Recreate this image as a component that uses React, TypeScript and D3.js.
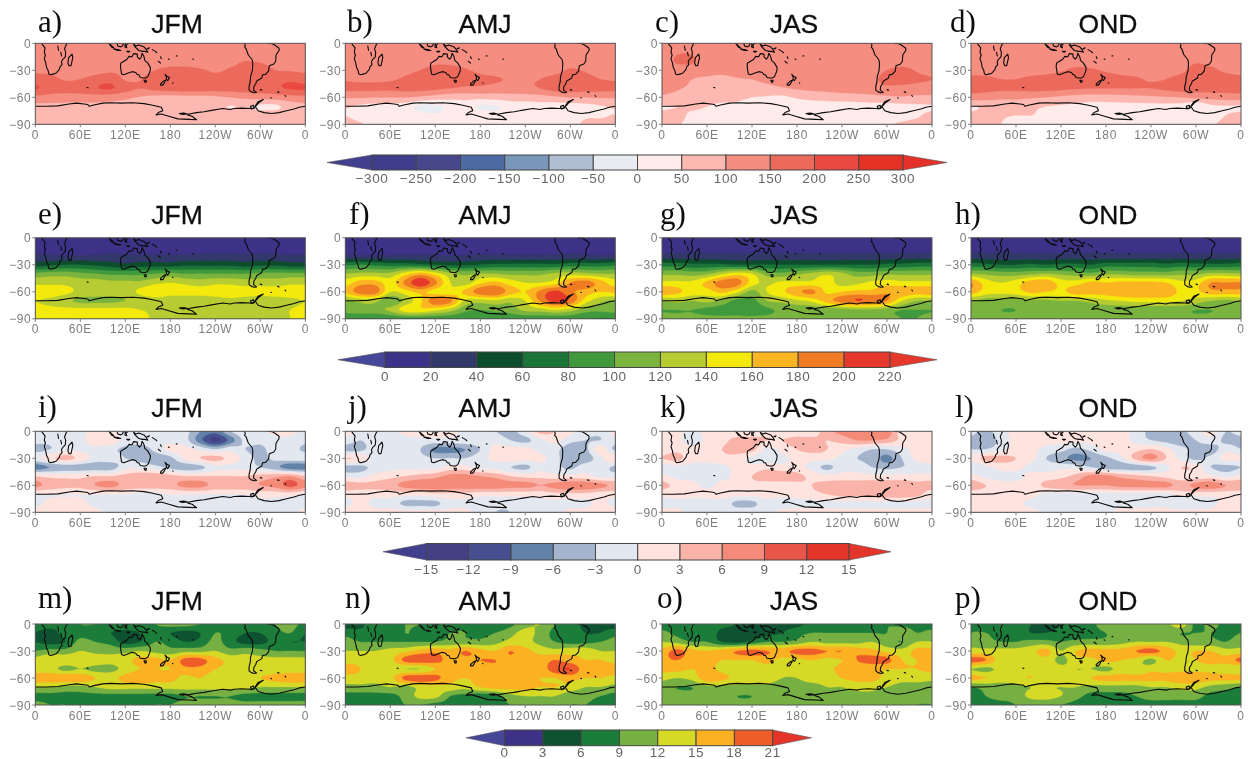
import React, { useMemo } from "react";
import * as d3 from "d3";

// Grid: longitudes 0,20..340 (wraps), latitudes 0,-10..-90
const LON_STEP = 20;
const LAT_STEP = 10;

const panelA = [
[125,125,125,125,125,125,125,125,125,125,125,125,125,125,125,125,125,125],
[125,125,125,125,125,125,125,125,125,125,125,125,125,125,125,125,125,125],
[125,125,125,125,125,125,125,125,125,125,125,125,125,135,150,145,130,125],
[140,135,125,125,130,140,140,135,150,165,165,155,145,155,170,175,150,145],
[175,165,145,150,170,180,145,148,170,175,175,170,160,165,170,175,180,190],
[205,175,170,175,195,205,170,150,165,175,175,175,170,170,175,180,190,205],
[135,130,125,125,125,120,110,95,85,80,85,85,90,100,110,115,120,130],
[85,85,85,85,85,85,80,75,75,75,70,70,60,48,55,40,40,70],
[75,75,75,75,75,75,75,75,75,75,75,75,75,75,75,75,75,75],
[75,75,75,75,75,75,75,75,75,75,75,75,75,75,75,75,75,75],
];
const panelB = [
[125,125,125,125,125,125,125,125,125,125,125,125,125,125,125,125,125,125],
[125,125,125,125,125,125,125,125,125,125,125,125,125,125,125,125,125,125],
[125,125,125,125,125,130,140,135,125,125,125,125,125,125,125,130,125,125],
[125,125,125,130,140,150,165,170,155,140,130,125,125,125,135,155,145,130],
[145,140,140,145,155,165,175,180,165,160,155,145,140,150,165,170,165,150],
[160,160,160,160,165,165,160,150,140,140,130,130,135,150,170,175,170,165],
[105,105,100,100,100,90,75,65,65,65,70,75,75,80,90,100,100,105],
[55,40,30,30,20,-10,-10,15,25,-5,-5,20,25,30,25,25,35,45],
[50,30,20,20,20,15,5,15,25,20,15,20,25,25,30,30,45,45],
[65,55,30,25,25,25,25,25,25,25,25,25,25,25,30,40,55,60],
];
const panelC = [
[125,125,125,125,125,125,125,125,125,125,125,125,125,125,125,125,125,125],
[125,145,145,125,125,125,125,125,125,125,125,125,125,125,125,125,125,125],
[125,155,155,125,125,125,125,125,125,125,125,125,125,125,125,125,125,125],
[130,130,125,120,115,125,125,125,125,125,125,125,125,125,125,150,165,145],
[150,125,100,90,85,95,100,110,120,125,125,125,125,125,135,170,175,160],
[115,105,90,80,80,85,85,85,95,105,110,115,120,120,125,135,130,125],
[92,85,70,65,65,60,50,45,40,55,65,70,75,80,85,90,95,90],
[45,50,60,50,40,40,35,30,25,25,25,25,25,25,30,30,35,40],
[60,65,40,35,30,30,30,30,30,30,30,30,30,30,30,35,35,45],
[60,55,35,30,30,30,30,30,30,30,30,30,30,30,35,45,55,60],
];
const panelD = [
[125,125,125,125,125,125,125,125,125,125,125,125,125,125,125,125,125,125],
[125,125,125,125,125,125,125,125,125,125,125,125,125,125,125,125,125,125],
[125,125,125,125,125,125,125,130,130,125,125,125,125,125,130,145,135,125],
[130,130,125,125,130,135,145,160,155,145,135,130,125,130,140,165,160,140],
[165,160,150,150,160,165,170,175,170,165,160,155,145,150,165,175,175,170],
[170,165,160,160,165,165,160,155,150,150,150,150,150,160,170,170,170,170],
[125,120,110,110,105,100,90,80,75,75,80,85,90,95,100,110,115,120],
[45,60,70,70,60,50,45,40,35,35,35,35,35,35,30,5,40,45],
[60,65,55,50,50,45,45,45,40,40,40,40,40,40,35,25,35,50],
[65,65,50,40,40,40,40,40,40,40,40,40,40,40,40,40,45,60],
];
const panelE = [
[10,10,10,10,10,10,10,10,10,10,10,10,10,10,10,10,10,10],
[11,11,10,10,11,11,10,10,11,11,11,11,11,11,11,11,11,11],
[22,22,20,20,22,24,22,22,22,22,22,24,24,24,24,24,24,22],
[50,55,60,60,55,50,45,50,50,50,55,55,55,55,50,55,55,50],
[105,110,110,105,100,95,95,95,100,105,100,100,100,100,100,105,105,105],
[135,135,135,130,130,125,125,125,135,140,135,130,135,135,130,130,130,135],
[150,150,145,135,130,130,130,145,155,150,148,148,150,150,150,150,150,150],
[140,135,125,115,115,115,120,125,130,125,125,125,130,135,130,125,130,135],
[145,145,145,145,145,145,145,140,135,130,130,130,130,130,130,130,135,140],
[150,150,150,150,150,150,150,148,135,130,125,125,125,125,125,130,130,140],
];
const panelF = [
[10,10,10,10,10,10,10,10,10,10,10,10,10,10,10,10,10,10],
[12,12,12,12,12,12,12,12,12,12,12,12,12,12,12,12,12,12],
[21,21,21,21,23,23,21,20,21,23,23,23,23,23,23,25,23,21],
[75,80,75,70,70,65,60,55,55,60,65,65,65,65,65,70,70,70],
[120,125,125,125,150,170,150,125,115,120,120,115,115,115,125,130,125,120],
[150,170,170,150,185,215,185,140,130,155,165,150,140,140,150,180,190,170],
[165,190,190,140,150,165,150,145,165,192,198,170,160,185,205,185,170,160],
[115,125,125,100,125,155,195,185,135,130,135,125,140,182,208,195,150,125],
[110,115,115,125,150,155,145,130,105,100,105,110,125,130,140,130,110,105],
[78,78,78,80,85,85,85,85,85,85,85,85,85,85,85,85,80,78],
];
const panelG = [
[10,10,10,10,10,10,10,10,10,10,10,10,10,10,10,10,10,10],
[12,12,12,12,12,12,12,12,12,12,12,12,12,12,12,12,12,12],
[27,27,27,27,26,26,26,26,26,26,26,26,26,26,26,26,27,27],
[70,70,65,65,65,60,60,60,60,60,60,60,60,60,60,65,65,70],
[115,115,110,115,135,150,140,110,105,115,125,135,125,110,110,115,115,115],
[145,145,145,165,190,190,150,135,145,145,145,150,130,135,145,150,145,145],
[175,165,150,150,165,145,112,140,155,175,185,155,160,165,165,175,175,170],
[120,125,120,125,115,92,92,120,125,135,145,170,190,200,195,180,140,120],
[100,100,100,95,90,90,85,95,105,105,105,105,110,115,115,110,100,100],
[105,105,105,105,105,105,105,105,105,105,105,105,105,105,105,105,100,100],
];
const panelH = [
[10,10,10,10,10,10,10,10,10,10,10,10,10,10,10,10,10,10],
[12,12,12,12,12,12,12,12,12,12,12,12,12,12,12,12,12,12],
[27,27,27,27,27,27,27,27,27,27,27,27,27,27,27,27,27,27],
[70,65,60,60,65,60,65,65,60,70,70,70,70,65,70,65,65,65],
[120,115,110,110,115,120,115,110,105,115,115,110,110,110,115,115,125,125],
[180,150,140,150,170,175,150,150,165,160,165,165,165,160,145,150,180,180],
[170,150,145,150,165,160,155,170,170,170,178,178,178,175,155,155,172,172],
[120,110,110,110,115,115,120,120,125,135,140,145,145,145,140,130,120,115],
[105,105,100,100,105,105,105,105,110,105,105,105,105,105,105,100,100,105],
[105,105,105,105,105,105,105,105,105,105,105,105,105,105,105,105,105,105],
];
const panelI = [
[-1,-1,-2,-1,1,1,-1,-1,-1,-1,-2,-6,-8,-3,-1,-1,1,1],
[-2,-2,-1,-1,2,2,-1,-1,-1,-1,-2,-8,-13,-8,-2,-2,-1,-1],
[-4,-3,-1,-1,-1,-2,-4,-5,-2,1,1,-1,-3,-1,-3,-4,-1,-1],
[-1,2,4,2,-1,-1,-3,-4,-5,-4,1,3,4,2,-1,-4,-2,-1],
[-8,-6,-5,-5,-5,-5,-1,-1,-2,-4,-5,-4,-1,-1,-1,-3,-5,-8],
[3,2,2,2,3,3,4,5,5,4,3,3,3,3,3,4,5,6],
[7,5,4,4,6,7,5,5,5,5,7,7,5,5,5,6,7,10],
[0,0,0,0,0,0,0,-1,-1,0,0,0,0,0,0,1,1,1],
[-1,1,1,1,-1,-1,-1,-1,-1,-1,-1,-1,-1,-1,-3,-1,-1,-1],
[1,1,1,1,1,-1,-1,-1,-1,-1,-1,-1,-1,-1,-1,-1,-1,-1],
];
const panelJ = [
[1,-1,-1,-1,1,2,2,1,-1,-1,-3,-4,-1,4,3,1,-2,-2],
[-1,-3,-1,-1,-1,-1,-1,-1,-1,-1,-1,-3,-4,-1,1,-2,-3,-3],
[-4,-4,-1,-1,-1,-3,-7,-7,-6,-3,1,1,1,-1,-2,-5,-4,2],
[3,2,-1,-1,-1,-2,-3,-3,-3,-1,1,2,1,1,-2,-5,-5,-1],
[-4,-4,-2,-1,-1,-1,-1,1,1,-1,-1,-3,-4,-1,-2,-4,-1,-1],
[-1,-1,1,2,3,4,5,7,7,6,5,3,2,2,1,1,1,-1],
[5,4,4,5,7,8,8,8,8,8,8,7,7,6,7,8,8,7],
[1,1,1,1,1,1,2,2,2,1,1,1,1,1,2,2,2,1],
[-1,1,-1,-1,-4,-4,-4,-1,-1,-2,-2,-2,-1,-1,-1,-1,-1,1],
[2,2,1,1,1,1,1,1,1,-1,-3,-3,-1,-1,-1,1,1,2],
];
const panelK = [
[1,1,-1,1,1,1,1,2,1,1,1,5,7,8,8,8,1,1],
[1,1,-2,1,2,4,4,3,3,4,4,3,4,6,6,5,2,1],
[1,2,1,2,3,4,4,-1,1,3,4,3,1,-1,-3,-3,-1,1],
[3,4,1,1,2,2,-1,-2,-1,1,1,1,-1,-3,-4,-7,-3,1],
[-2,-1,-1,-1,-1,1,1,2,1,1,-1,-4,-1,-1,-3,-4,-3,-2],
[1,-1,-1,-1,-1,1,3,5,5,4,2,1,1,1,1,1,1,1],
[4,2,1,-1,1,1,2,1,1,2,3,4,5,5,5,5,5,4],
[1,1,1,1,1,1,1,1,1,1,2,3,4,4,5,5,5,4],
[-1,-1,-2,-2,-1,-4,-4,-1,-2,-1,-1,-1,-1,-1,-1,-1,-1,-1],
[1,1,-1,-1,-1,-1,-1,-1,1,1,1,1,1,1,1,1,1,1],
];
const panelL = [
[-2,-4,-1,1,1,1,1,1,1,1,1,-1,-4,-4,-4,-1,1,-3],
[-4,-5,-2,1,1,1,1,1,1,1,1,-1,-3,-4,-5,-3,-1,-4],
[-3,-3,-1,1,1,-1,-2,-4,-2,1,1,2,3,1,-2,-4,-5,-1],
[1,4,4,3,1,-3,-5,-7,-6,-4,-1,4,7,3,-1,-4,-2,1],
[-3,-1,1,1,-1,-1,-1,-1,-3,-5,-5,-5,-4,-1,3,2,-3,-4],
[1,-1,-1,-1,1,1,2,4,7,7,5,4,3,2,1,1,1,-1],
[5,3,1,1,1,4,5,6,6,6,7,7,7,7,5,7,8,6],
[1,1,1,1,1,-1,-1,-1,-1,-1,-1,-1,-1,-1,1,1,1,1],
[1,1,1,1,-1,-1,-1,-1,-1,-1,-1,-1,-1,-1,-3,-2,-1,1],
[2,2,2,1,1,-1,-1,-1,-1,-1,1,1,1,1,1,1,1,2],
];
const panelM = [
[8,7,7,9,9,8,8,8,9,10,10,9,8,9,8,8,9,10],
[6,5,7,8,7,6,5,6,8,6,5,6,9,8,6,6,8,9],
[6,5,6,10,9,8,5,6,9,8,6,7,10,7,5,5,7,6],
[9,10,10,12,11,11,11,12,11,10,11,11,12,10,11,10,9,9],
[13,15,14,15,14,13,14,16,16,15,19,19,16,14,13,13,13,13],
[13,13,11,12,11,11,13,15,15,15,17,17,15,14,13,13,13,13],
[17,17,17,17,15,14,16,17,16,16,14,15,13,13,14,15,16,17],
[12,12,11,11,12,13,13,13,13,13,13,13,13,13,13,12,12,12],
[8,8,8,8,8,8,8,8,8,8,9,9,9,9,8,8,8,8],
[10,9,9,8,8,8,8,8,9,9,10,10,10,10,10,10,10,10],
];
const panelN = [
[4,5,8,7,9,9,8,8,9,7,6,8,11,12,9,8,5,5],
[8,7,8,6,9,8,8,9,9,8,9,11,13,11,8,8,6,6],
[10,9,9,9,9,9,9,10,10,10,11,13,13,11,9,8,8,9],
[12,12,12,13,14,16,17,16,18,16,15,18,16,14,13,14,14,12],
[14,14,13,14,19,20,19,17,17,18,18,17,16,16,18,16,15,15],
[16,15,13,13,12,12,15,18,16,16,17,16,16,16,20,21,16,16],
[14,14,13,14,19,20,19,16,15,16,16,16,16,15,15,16,15,15],
[11,11,11,12,11,13,14,14,13,15,16,16,16,15,15,14,12,12],
[8,8,8,8,10,13,13,9,8,7,8,11,12,12,12,10,10,9],
[8,8,8,8,9,9,8,8,8,8,8,9,10,10,10,9,9,8],
];
const panelO = [
[7,6,8,8,7,6,5,4,5,5,7,8,8,8,8,9,8,8],
[10,8,7,8,5,4,4,5,6,8,9,9,9,9,9,9,11,9],
[12,11,9,9,6,5,7,9,9,10,12,11,11,11,12,10,9,12],
[16,19,16,15,16,18,19,18,17,19,19,18,18,17,16,14,13,16],
[17,18,16,16,15,15,15,16,14,14,15,14,15,18,19,19,15,15],
[16,16,15,16,14,13,13,14,13,13,13,14,16,16,16,15,15,15],
[13,12,13,17,16,14,14,14,12,12,13,13,15,16,16,14,13,13],
[10,9,9,11,11,11,11,11,10,11,11,12,12,13,13,12,11,11],
[10,10,10,10,10,9,9,10,10,10,10,11,11,11,11,10,10,10],
[9,10,10,10,10,10,10,10,10,10,10,10,10,10,10,10,10,9],
];
const panelP = [
[9,8,7,8,6,5,6,7,8,11,11,11,11,11,14,8,10,8],
[9,9,8,8,6,6,7,7,8,9,10,10,10,10,9,9,9,8],
[11,10,9,9,10,10,9,10,10,10,11,12,12,12,11,10,10,9],
[13,13,13,13,14,16,12,15,16,16,16,18,19,17,14,15,15,13],
[19,18,13,13,13,14,11,14,14,16,15,14,11,15,14,15,16,16],
[12,11,13,14,14,14,13,12,12,11,13,12,14,14,14,14,14,13],
[16,15,14,14,15,13,14,13,15,16,16,16,16,16,17,17,16,16],
[9,10,10,11,12,12,12,12,11,11,11,11,12,12,13,13,11,10],
[8,9,10,10,13,13,12,10,8,8,8,9,10,10,10,10,8,8],
[8,8,8,9,9,10,9,8,8,8,8,8,8,8,8,8,8,8],
];

const seasons = ["JFM", "AMJ", "JAS", "OND"];
const rowPanels = [
  [panelA, panelB, panelC, panelD],
  [panelE, panelF, panelG, panelH],
  [panelI, panelJ, panelK, panelL],
  [panelM, panelN, panelO, panelP],
];
const rowLetters = [["a)", "b)", "c)", "d)"], ["e)", "f)", "g)", "h)"], ["i)", "j)", "k)", "l)"], ["m)", "n)", "o)", "p)"]];

const levelsRow1 = [-300, -250, -200, -150, -100, -50, 0, 50, 100, 150, 200, 250, 300];
const colorsRow1 = ["#41408f", "#3f3d8a", "#47478c", "#4b69a2", "#7997b8", "#b0bed3", "#e9edf3", "#ffecea", "#fdb8b1", "#f58d80", "#ec6b5b", "#e94a40", "#e43127", "#e4312a"];
const levelsRow2 = [0, 20, 40, 60, 80, 100, 120, 140, 160, 180, 200, 220];
const colorsRow2 = ["#47479a", "#3c3387", "#33386b", "#0e4d2f", "#1b7438", "#3f9a3e", "#7ab33d", "#b6cc30", "#f3e90e", "#fbb520", "#ef7c22", "#e5392c", "#e5392c"];
const levelsRow3 = [-15, -12, -9, -6, -3, 0, 3, 6, 9, 12, 15];
const colorsRow3 = ["#41408f", "#443f85", "#475090", "#6382a8", "#a4b4cc", "#e3e8f0", "#ffe3df", "#f9b3a9", "#f48a78", "#ea5548", "#e3342a", "#e3342a"];
const levelsRow4 = [0, 3, 6, 9, 12, 15, 18, 21];
const colorsRow4 = ["#47479a", "#3c3387", "#0f5230", "#1e7d3a", "#76b043", "#d6da28", "#fbb123", "#ee5c2b", "#e5342c"];

const rowLevels = [levelsRow1, levelsRow2, levelsRow3, levelsRow4];
const rowColors = [colorsRow1, colorsRow2, colorsRow3, colorsRow4];

// Coastlines as [lon, lat]
const coastAfrica = [[9,0],[9,-1],[13,-5],[12,-10],[13.5,-13],[12,-17],[14,-22],[15,-27],[17,-30],[18,-34],[20,-35],[25,-34],[28,-33],[32,-29],[33,-26],[35.5,-24],[35,-20],[37,-17.5],[40,-15],[40.5,-10],[39,-6],[41,-2],[42.5,0]];
const coastMadagascar = [[49,-12],[50,-16],[47.5,-25],[45,-25],[43.5,-22],[44.5,-16],[49,-12]];
const coastLakes = [[30,-3],[31,-8]];
const coastLakes2 = [[34,-10],[35,-14]];
const coastAustralia = [[114,-22],[113.5,-26],[115,-34],[118,-35],[124,-33],[129,-31.5],[134,-32.5],[136,-35],[138,-35],[140,-38],[144,-38.5],[147,-38.5],[150,-37],[153,-31],[153.5,-27],[150,-22],[146,-19],[145,-15],[142.5,-11],[141,-16],[139,-17.5],[136,-15],[136,-12],[131,-11.5],[129,-15],[125,-14.5],[122,-18],[117,-20.5],[114,-22]];
const coastTasmania = [[145,-41],[148,-41],[148,-43],[146.5,-43.5],[145,-41]];
const coastNZNorth = [[173,-34.5],[176,-37],[179,-38],[176.5,-41.5],[174.5,-40],[175,-38],[173,-34.5]];
const coastNZSouth = [[174,-41],[172,-44],[170,-46.5],[167,-46.5],[167,-45],[171,-42],[174,-41]];
const coastSumatra = [[98,0],[101,-2],[105,-5.5],[102,-4.5],[99,-1],[98,0]];
const coastJava = [[105,-6.5],[110,-7],[114,-8],[110,-8],[105,-6.5]];
const coastBorneo = [[109,0],[110,-3],[114,-4],[116,-3],[118,0]];
const coastSulawesi = [[120,0],[119.5,-4],[122,-5],[121,-2],[124,0]];
const coastGuinea = [[131,-1],[134,-3],[138,-2],[145,-4],[148,-7],[150,-10],[146,-9],[143,-9],[138,-8],[133,-4],[131,-1]];
const coastTimor = [[122,-9],[126,-9],[124,-10],[122,-9]];
const coastNewBritain = [[149,-6],[152,-5],[151,-6],[149,-6]];
const coastSolomon = [[156,-7],[160,-9],[162,-10.5]];
const coastVanuatu = [[167,-15],[168,-17]];
const coastCaledonia = [[164,-20],[167,-22]];
const coastFiji = [[177.5,-17.5],[178.5,-18]];
const coastSamoa = [[188,-14],[189,-14]];
const coastTahiti = [[210,-17.5],[210.8,-17.8]];
const coastKerguelen = [[69,-49],[70.5,-49.5]];
const coastChatham = [[183,-44],[183.6,-44.2]];
const coastFalkland = [[300,-51.5],[302,-52]];
const coastSouthGeorgia = [[323,-54],[325,-54.5]];
const coastSandwich = [[333,-58],[334,-59]];
const coastOrkney = [[314,-60.5],[315,-60.7]];
const coastSouthAmerica = [[279,0],[280,-2.5],[279,-4.5],[281,-6],[284,-13],[289,-18],[290,-22],[289.5,-30],[287,-37],[286.5,-43],[285,-48],[285,-52],[288,-54],[292,-55],[295,-54.5],[291,-52],[291.5,-48],[294,-45],[295,-42],[297,-41],[302,-38.5],[303,-35],[307,-34.5],[311,-31],[312,-25],[318,-23],[320.5,-20],[321,-13],[325,-8],[325,-5.5],[320,-2.5],[316,-0.5],[310,0]];
const coastAntarctica = [[0,-70],[15,-70],[30,-69.5],[45,-67.5],[55,-66.5],[65,-67.5],[70,-68],[72,-70],[78,-68.5],[90,-66.5],[100,-66],[115,-66.5],[130,-66],[145,-67],[155,-68.5],[168,-71],[170,-75],[164,-77],[161,-79.5],[168,-78.5],[178,-81],[190,-84],[205,-84.5],[215,-85],[209,-81],[203,-79.5],[205,-78.5],[215,-77],[225,-76],[235,-74.5],[250,-72.5],[260,-73.5],[265,-72.5],[275,-72],[285,-72.5],[291,-72],[295,-69],[298,-66],[304,-62.5],[297,-65],[293,-70],[297,-75],[305,-77],[315,-78],[325,-77],[335,-75],[345,-73],[352,-71],[360,-70]];
const coastPeninsulaIsle = [[287,-70],[291,-69],[292,-72],[288,-73],[287,-70]];
const coastRoss = [[192,-78],[198,-77.5],[203,-78.5],[196,-79],[192,-78]];
const coastlines = [coastAfrica, coastMadagascar, coastLakes, coastLakes2, coastAustralia, coastTasmania, coastNZNorth, coastNZSouth, coastSumatra, coastJava, coastBorneo, coastSulawesi, coastGuinea, coastTimor, coastNewBritain, coastSolomon, coastVanuatu, coastCaledonia, coastFiji, coastSamoa, coastTahiti, coastKerguelen, coastChatham, coastFalkland, coastSouthGeorgia, coastSandwich, coastOrkney, coastSouthAmerica, coastAntarctica, coastPeninsulaIsle, coastRoss];

const lonTicks = [0, 60, 120, 180, 240, 300, 360];
const lonTickLabels = ["0", "60E", "120E", "180", "120W", "60W", "0"];
const latTicks = [0, -30, -60, -90];

// Layout
const PW = 270;
const PH = 81;
const colX = [35.3, 345.3, 662, 971];
const rowY = [43.3, 237.8, 431.3, 624];
const labelX = [[38, 347, 655, 950], [38, 349, 660, 955], [38, 348, 660, 955], [38, 345, 657, 955]];
const labelY = [32, 224, 417, 608];
const titleCx = [177, 485, 794, 1108];
const titleY = [33, 224, 417, 610];
const barSpec = [
  { x0: 372, x1: 903, tipL: 327, tipR: 947, y0: 155, y1: 170, ly: 178 },
  { x0: 385, x1: 890, tipL: 338, tipR: 937, y0: 352, y1: 367.5, ly: 376 },
  { x0: 426.5, x1: 849, tipL: 383, tipR: 891, y0: 543.5, y1: 560, ly: 569 },
  { x0: 504.5, x1: 772.7, tipL: 466, tipR: 811.5, y0: 730, y1: 745.7, ly: 752.5 },
];

const UP = 5;
const cr = (a: number, b: number, c: number, d: number, t: number) =>
  0.5 * (2 * b + (c - a) * t + (2 * a - 5 * b + 4 * c - d) * t * t + (3 * b - a - 3 * c + d) * t * t * t);

// Resample the read grid for smooth contour bands (periodic in longitude)
function resample(g: number[][]) {
  const nx = g[0].length, ny = g.length;
  const w = nx * UP + 1, h = (ny - 1) * UP + 1;
  const out = new Array(w * h);
  const at = (i: number, j: number) => g[Math.max(0, Math.min(ny - 1, j))][((i % nx) + nx) % nx];
  for (let y = 0; y < h; y++) {
    const j = Math.floor(y / UP), v = y / UP - j;
    for (let x = 0; x < w; x++) {
      const i = Math.floor(x / UP), u = x / UP - i;
      const col = [-1, 0, 1, 2].map((dj) =>
        cr(at(i - 1, j + dj), at(i, j + dj), at(i + 1, j + dj), at(i + 2, j + dj), u));
      out[y * w + x] = cr(col[0], col[1], col[2], col[3], v);
    }
  }
  return { w, h, out };
}

const tickFont = "'Liberation Sans', sans-serif";
const tickColor = "#7d7d7d";
const fmt = (v: number) => (v < 0 ? "\u2212" + Math.abs(v) : String(v));

function Panel({ grid, levels, colors, x0, y0, id }: any) {
  const sx = d3.scaleLinear().domain([0, 360]).range([x0, x0 + PW]);
  const sy = d3.scaleLinear().domain([0, -90]).range([y0, y0 + PH]);
  const bands = useMemo(() => {
    const { w, h, out } = resample(grid);
    const contours = d3.contours().size([w, h]).thresholds(levels)(out);
    const tr = d3.geoTransform({
      point(x: number, y: number) {
        (this as any).stream.point(sx(((x - 0.5) / UP) * LON_STEP), sy(-((y - 0.5) / UP) * LAT_STEP));
      },
    });
    const path = d3.geoPath(tr);
    return contours.map((c: any, i: number) => ({ d: path(c) || "", fill: colors[i + 1] }));
  }, [grid]);
  const coast = d3.line<number[]>().x((p) => sx(p[0])).y((p) => sy(p[1]));
  return (
    <g>
      <clipPath id={id}><rect x={x0} y={y0} width={PW} height={PH} /></clipPath>
      <g clipPath={`url(#${id})`}>
        <rect x={x0} y={y0} width={PW} height={PH} fill={colors[0]} />
        {bands.map((b: any, i: number) => <path key={i} d={b.d} fill={b.fill} stroke={b.fill} strokeWidth={0.3} />)}
        {coastlines.map((c, i) => <path key={i} d={coast(c as number[][]) || ""} fill="none" stroke="#0a0a0a" strokeWidth={1.1} strokeLinejoin="round" strokeLinecap="round" />)}
      </g>
      <rect x={x0} y={y0} width={PW} height={PH} fill="none" stroke="#555" strokeWidth={1} />
      {lonTicks.map((t, i) => (
        <g key={i}>
          <line x1={sx(t)} x2={sx(t)} y1={y0 + PH} y2={y0 + PH + 3} stroke={tickColor} />
          <text x={sx(t)} y={y0 + PH + 14.5} textAnchor="middle" fontFamily={tickFont} fontSize={12} letterSpacing={0.6} fill={tickColor}>{lonTickLabels[i]}</text>
        </g>
      ))}
      {latTicks.map((t) => (
        <g key={t}>
          <line x1={x0 - 3} x2={x0} y1={sy(t)} y2={sy(t)} stroke={tickColor} />
          <text x={x0 - 4} y={sy(t) + 4.5} textAnchor="end" fontFamily={tickFont} fontSize={12} letterSpacing={0.6} fill={tickColor}>{fmt(t)}</text>
        </g>
      ))}
    </g>
  );
}

function ColorBar({ levels, colors, spec }: any) {
  const sc = d3.scaleLinear().domain([levels[0], levels[levels.length - 1]]).range([spec.x0, spec.x1]);
  const ym = (spec.y0 + spec.y1) / 2;
  return (
    <g>
      <path d={`M${spec.tipL},${ym}L${spec.x0},${spec.y0}L${spec.x0},${spec.y1}Z`} fill={colors[0]} stroke="#555" strokeWidth={0.6} />
      <path d={`M${spec.tipR},${ym}L${spec.x1},${spec.y0}L${spec.x1},${spec.y1}Z`} fill={colors[colors.length - 1]} stroke="#555" strokeWidth={0.6} />
      {levels.slice(0, -1).map((l: number, i: number) => (
        <rect key={i} x={sc(l)} y={spec.y0} width={sc(levels[i + 1]) - sc(l)} height={spec.y1 - spec.y0} fill={colors[i + 1]} stroke="#444" strokeWidth={1} />
      ))}
      {levels.map((l: number) => (
        <text key={l} x={sc(l)} y={spec.ly + 4.5} textAnchor="middle" fontFamily={tickFont} fontSize={13.5} letterSpacing={0.6} fill="#666">{fmt(l)}</text>
      ))}
    </g>
  );
}

export default function App() {
  return (
    <svg width={1248} height={759} viewBox="0 0 1248 759" style={{ position: "absolute", left: 0, top: 0, background: "#fff" }}>
      <defs>
        <filter id="soft" x="0" y="0" width="100%" height="100%"><feGaussianBlur stdDeviation={0.45} /></filter>
      </defs>
      <g filter="url(#soft)">
        {rowPanels.map((row, r) => (
          <g key={r}>
            {row.map((grid, c) => (
              <g key={c}>
                <text x={labelX[r][c]} y={labelY[r]} fontFamily="'Liberation Serif', serif" fontSize={31} fill="#111">{rowLetters[r][c]}</text>
                <text x={titleCx[c]} y={titleY[r]} textAnchor="middle" fontFamily="'Liberation Sans', sans-serif" fontSize={26.5} stroke="#111" strokeWidth={0.3} fill="#111">{seasons[c]}</text>
                <Panel grid={grid} levels={rowLevels[r]} colors={rowColors[r]} x0={colX[c]} y0={rowY[r]} id={`clip-${r}-${c}`} />
              </g>
            ))}
            <ColorBar levels={rowLevels[r]} colors={rowColors[r]} spec={barSpec[r]} />
          </g>
        ))}
      </g>
    </svg>
  );
}
